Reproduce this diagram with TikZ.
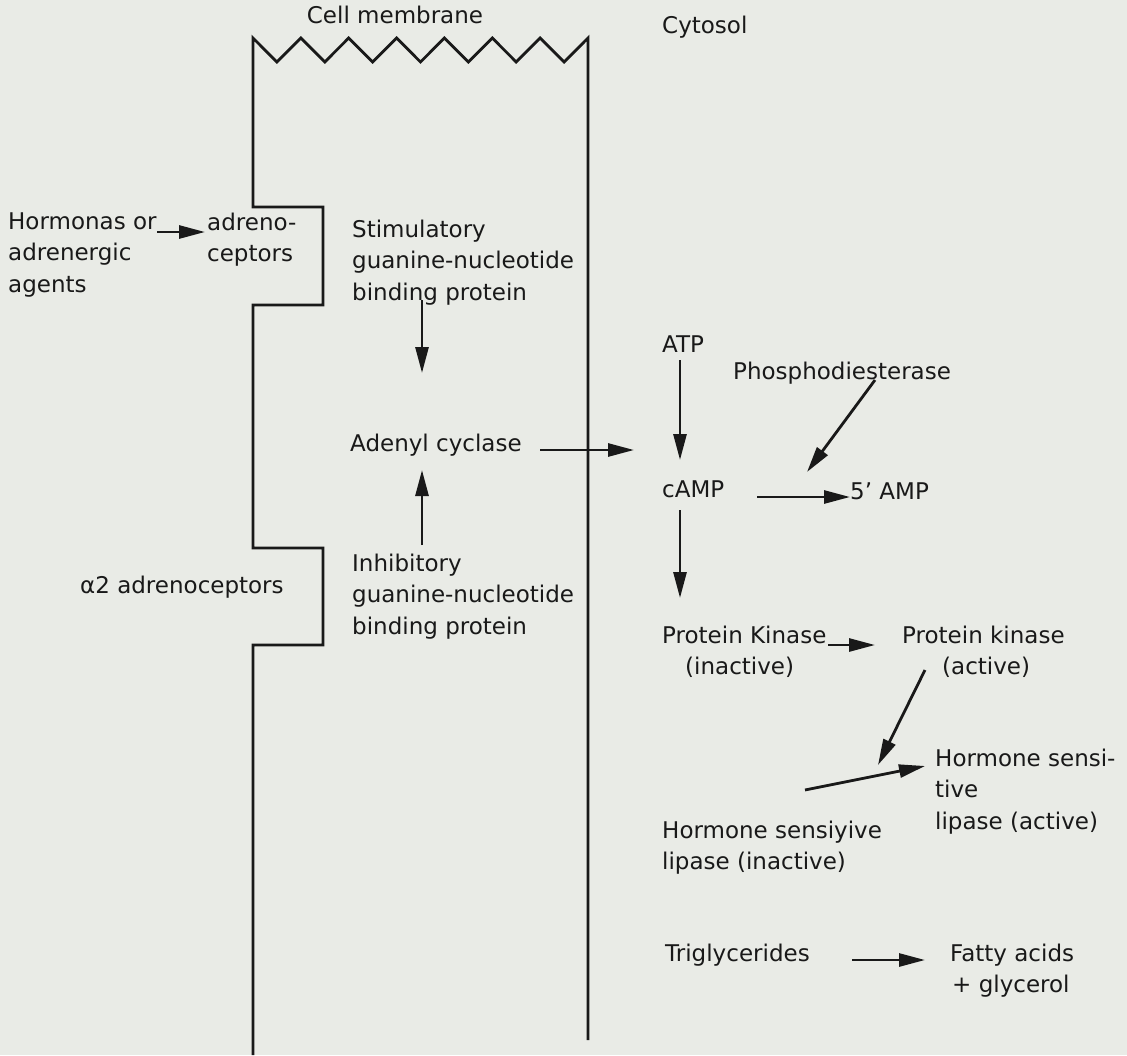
\documentclass[tikz,border=0pt]{standalone}
\usepackage{fontspec}
\setmainfont{DejaVu Sans}
\usetikzlibrary{arrows.meta}
\definecolor{paper}{RGB}{233,235,230}
\definecolor{ink}{RGB}{25,25,25}
\begin{document}
\begin{tikzpicture}[x=1pt,y=-1pt,
  lbl/.style={inner sep=0pt, anchor=north west, align=left, font=\fontsize{23}{31.5}\selectfont, text=ink},
  arr/.style={-{Triangle[length=26pt,width=13pt]}, line width=2.8pt, draw=ink},
  memb/.style={line width=2.8pt, draw=ink, line join=miter}]
\fill[paper] (0,0) rectangle (1127,1055);
\useasboundingbox (0,0) rectangle (1127,1055);
% membrane
\draw[memb] (253,1055) -- (253,645) -- (323,645) -- (323,548) -- (253,548) -- (253,305)
  -- (323,305) -- (323,207) -- (253,207) -- (253,38)
  \foreach \i in {0,...,6} { -- ({253+47.857*\i+23.93},62) -- ({253+47.857*(\i+1)},38) }
  -- (588,1040);
% labels
\node[lbl, anchor=north] (cell) at (395,5.5) {Cell membrane};
\node[lbl] (cyto) at (662,15.5) {Cytosol};
\node[lbl] (horm) at (8,212.5) {Hormonas or\\adrenergic\\agents};
\node[lbl] (adre) at (207,212.5) {adreno-\\ceptors};
\node[lbl] (stim) at (352,219.5) {Stimulatory\\guanine-nucleotide\\binding protein};
\node[lbl] (aden) at (350,433.5) {Adenyl cyclase};
\node[lbl] (inhib) at (352,553.5) {Inhibitory\\guanine-nucleotide\\binding protein};
\node[lbl] (alpha) at (80,575.5) {α2 adrenoceptors};
\node[lbl] (atp) at (662,335.5) {ATP};
\node[lbl] (phos) at (733,361.5) {Phosphodiesterase};
\node[lbl] (camp) at (662,480.5) {cAMP};
\node[lbl] (amp) at (850,482.5) {5’ AMP};
\node[lbl] (pki) at (662,625.5) {Protein Kinase\\\hspace*{23pt}(inactive)};
\node[lbl] (pka) at (902,625.5) {Protein kinase\\\hspace*{40pt}(active)};
\node[lbl] (hsla) at (935,748.5) {Hormone sensi-\\tive\\lipase (active)};
\node[lbl] (hsli) at (662,820.5) {Hormone sensiyive\\lipase (inactive)};
\node[lbl] (tri) at (665,943.5) {Triglycerides};
\node[lbl] (fat) at (950,943.5) {Fatty acids\\\hspace*{2pt}+ glycerol};
% connector ends
\coordinate (hormout) at (157,232);
\coordinate (adrein) at (205,232);
\coordinate (stimout) at (422,300);
\coordinate (adenin1) at (422,373);
\coordinate (inhibout) at (422,545);
\coordinate (adenin2) at (422,470);
\coordinate (adenout) at (540,450);
\coordinate (cytin) at (634,450);
\coordinate (atpout) at (680,360);
\coordinate (campin) at (680,460);
\coordinate (phosout) at (875,380);
\coordinate (hydro) at (807,472);
\coordinate (campout) at (757,497);
\coordinate (ampin) at (850,497);
\coordinate (campdown) at (680,510);
\coordinate (pkiin) at (680,598);
\coordinate (pkiout) at (828,645);
\coordinate (pkain) at (875,645);
\coordinate (pkaout) at (925,670);
\coordinate (act) at (878,765);
\coordinate (hsliout) at (805,790);
\coordinate (hslain) at (925,766);
\coordinate (triout) at (852,960);
\coordinate (fatin) at (925,960);
% connectors
\draw[arr] (hormout) -- (adrein);
\draw[arr] (stimout) -- (adenin1);
\draw[arr] (inhibout) -- (adenin2);
\draw[arr] (adenout) -- (cytin);
\draw[arr] (atpout) -- (campin);
\draw[arr] (phosout) -- (hydro);
\draw[arr] (campout) -- (ampin);
\draw[arr] (campdown) -- (pkiin);
\draw[arr] (pkiout) -- (pkain);
\draw[arr] (pkaout) -- (act);
\draw[arr] (hsliout) -- (hslain);
\draw[arr] (triout) -- (fatin);
\end{tikzpicture}
\end{document}
